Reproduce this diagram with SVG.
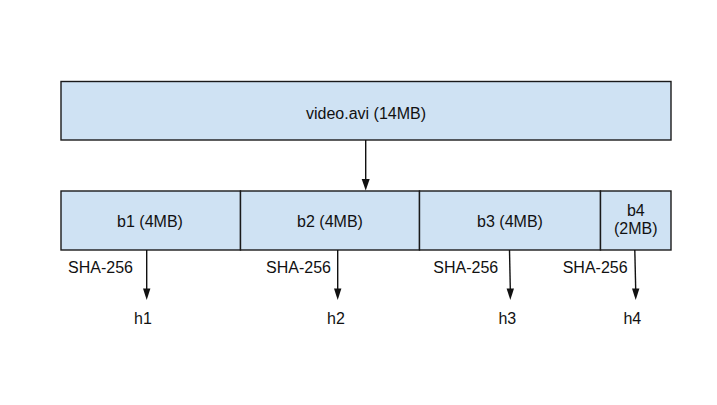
<svg xmlns="http://www.w3.org/2000/svg" width="717" height="405" viewBox="0 0 717 405">
<style>
.box{fill:#cfe2f3;stroke:#1a1a1a;stroke-width:1.4}
.t{font-family:"Liberation Sans",Arial,sans-serif;font-size:16px;fill:#111}
.c{text-anchor:middle}
.ln{stroke:#111;stroke-width:1.4;fill:none}
.hd{fill:#111}
</style>
<rect width="717" height="405" fill="#fff"/>
<g id="video">
<rect class="box" x="61" y="81.5" width="610" height="58.5"/>
<text class="t c" x="366" y="118.5">video.avi (14MB)</text>
</g>
<g id="b1">
<rect class="box" x="61" y="191" width="179.5" height="59"/>
<text class="t c" x="150" y="226.7">b1 (4MB)</text>
</g>
<g id="b2">
<rect class="box" x="240.5" y="191" width="179" height="59"/>
<text class="t c" x="330" y="226.7">b2 (4MB)</text>
</g>
<g id="b3">
<rect class="box" x="419.5" y="191" width="181" height="59"/>
<text class="t c" x="510" y="226.7">b3 (4MB)</text>
</g>
<g id="b4">
<rect class="box" x="600.5" y="191" width="70.5" height="59"/>
<text class="t c" x="635.8" y="215.7">b4</text>
<text class="t c" x="635.8" y="234.3">(2MB)</text>
</g>
<g id="connectors">
<line class="ln" x1="365.7" y1="140" x2="365.7" y2="180"/>
<polygon class="hd" points="361.7,179 369.7,179 365.7,190.5"/>
<line class="ln" x1="146.7" y1="250" x2="146.7" y2="289"/>
<polygon class="hd" points="143,288.5 150.4,288.5 146.7,300"/>
<line class="ln" x1="337.7" y1="250" x2="337.7" y2="289"/>
<polygon class="hd" points="334,288.5 341.4,288.5 337.7,300"/>
<line class="ln" x1="509.5" y1="250" x2="510.3" y2="289"/>
<polygon class="hd" points="506.6,288.5 514,288.5 510.3,300"/>
<line class="ln" x1="634.8" y1="250" x2="635.7" y2="289"/>
<polygon class="hd" points="632,288.5 639.4,288.5 635.7,300"/>
</g>
<g id="labels">
<text class="t" x="68" y="272.5">SHA-256</text>
<text class="t" x="266" y="272.5">SHA-256</text>
<text class="t" x="433.3" y="272.5">SHA-256</text>
<text class="t" x="562.7" y="272.5">SHA-256</text>
<text class="t c" x="143" y="323.7">h1</text>
<text class="t c" x="336" y="323.7">h2</text>
<text class="t c" x="507.3" y="323.7">h3</text>
<text class="t c" x="632.3" y="323.7">h4</text>
</g>
</svg>
